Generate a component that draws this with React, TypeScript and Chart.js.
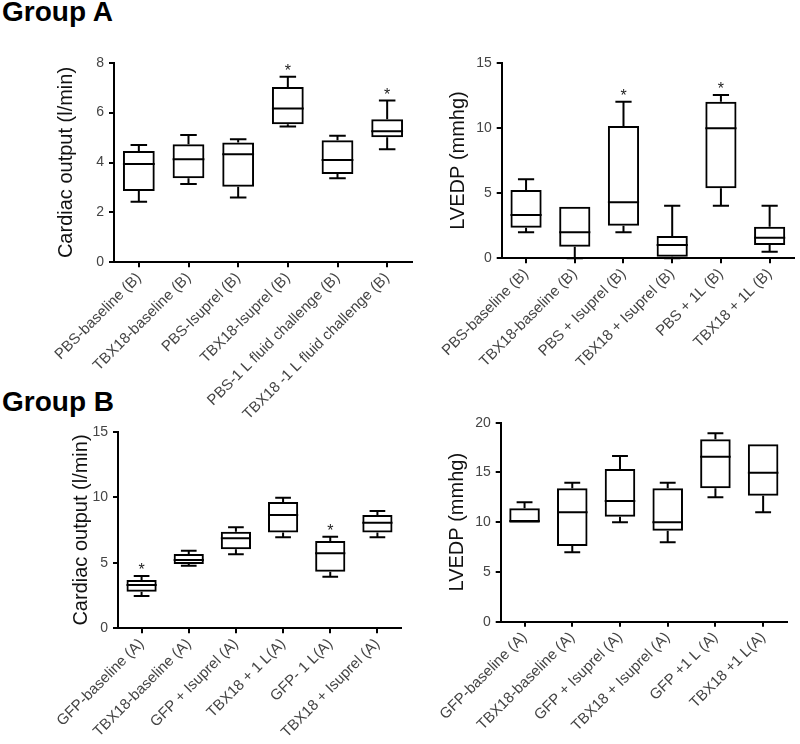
import React, { useEffect, useRef } from 'react';
import { Chart, registerables } from 'chart.js';

Chart.register(...registerables);

const FONT = '"Liberation Sans", Arial, Helvetica, sans-serif';

// ---------- Group A : cardiac output ----------
const coALabels = [
  'PBS-baseline (B)',
  'TBX18-baseline (B)',
  'PBS-Isuprel (B)',
  'TBX18-Isuprel (B)',
  'PBS-1 L fluid challenge (B)',
  'TBX18 -1 L fluid challenge (B)',
];
const coAMin = [2.43, 3.14, 2.6, 5.44, 3.37, 4.53];
const coAQ1 = [2.86, 3.37, 3.03, 5.53, 3.54, 5.01];
const coAMed = [3.94, 4.13, 4.33, 6.16, 4.1, 5.25];
const coAQ3 = [4.46, 4.73, 4.8, 7.03, 4.89, 5.73];
const coAMax = [4.7, 5.1, 4.93, 7.44, 5.07, 6.48];
const coAStar = [false, false, false, true, false, true];

// ---------- Group A : LVEDP ----------
const lvALabels = [
  'PBS-baseline (B)',
  'TBX18-baseline (B)',
  'PBS + Isuprel (B)',
  'TBX18 + Isuprel (B)',
  'PBS + 1L (B)',
  'TBX18 + 1L (B)',
];
const lvAMin = [1.99, 0, 2.0, 0, 4.03, 0.51];
const lvAQ1 = [2.35, 0.89, 2.5, 0.12, 5.37, 1.02];
const lvAMed = [3.32, 1.99, 4.29, 1.02, 9.97, 1.58];
const lvAQ3 = [5.24, 3.96, 10.15, 1.71, 12.0, 2.42];
const lvAMax = [6.06, 3.96, 12.0, 4.03, 12.52, 4.03];
const lvAStar = [false, false, true, false, true, false];

// ---------- Group B : cardiac output ----------
const coBLabels = [
  'GFP-baseline (A)',
  'TBX18-baseline (A)',
  'GFP + Isuprel (A)',
  'TBX18 + 1 L(A)',
  'GFP- 1 L(A)',
  'TBX18 + Isuprel (A)',
];
const coBMin = [2.47, 4.78, 5.65, 6.95, 3.94, 6.95];
const coBQ1 = [2.79, 4.91, 6.03, 7.3, 4.32, 7.3];
const coBMed = [3.3, 5.21, 6.87, 8.65, 5.73, 8.06];
const coBQ3 = [3.69, 5.67, 7.37, 9.64, 6.66, 8.65];
const coBMax = [3.99, 5.92, 7.71, 9.97, 6.99, 8.95];
const coBStar = [true, false, false, false, true, false];

// ---------- Group B : LVEDP ----------
const lvBLabels = [
  'GFP-baseline (A)',
  'TBX18-baseline (A)',
  'GFP + Isuprel (A)',
  'TBX18 + Isuprel (A)',
  'GFP +1 L (A)',
  'TBX18 +1 L(A)',
];
const lvBMin = [9.95, 6.97, 9.99, 7.98, 12.5, 11.0];
const lvBQ1 = [9.95, 7.6, 10.55, 9.15, 13.4, 12.66];
const lvBMed = [10.12, 11.0, 12.13, 9.99, 16.58, 14.97];
const lvBQ3 = [11.4, 13.4, 15.35, 13.4, 18.33, 17.83];
const lvBMax = [12.0, 13.97, 16.65, 13.97, 18.93, 17.83];
const lvBStar = [false, false, false, false, false, false];

type PanelProps = {
  labels: string[];
  min: number[];
  q1: number[];
  med: number[];
  q3: number[];
  max: number[];
  star: boolean[];
  yTitle: string;
  yMax: number;
  step: number;
  left: number;
  top: number;
  w: number;
  h: number;
  padTop: number;
  padRight: number;
  yW: number;
  xH: number;
  titlePad: number;
};

function BoxPanel(p: PanelProps) {
  const ref = useRef<HTMLCanvasElement>(null);
  useEffect(() => {
    if (!ref.current) return;
    const boxPlugin = {
      id: 'boxWhisker',
      afterDatasetsDraw(chart: any) {
        const ctx = chart.ctx;
        const xs = chart.scales.x;
        const ys = chart.scales.y;
        const meta = chart.getDatasetMeta(0);
        ctx.save();
        ctx.strokeStyle = '#000';
        ctx.lineWidth = 2;
        ctx.lineCap = 'butt';
        p.med.forEach((m, i) => {
          const bar = meta.data[i];
          const x = xs.getPixelForValue(i);
          const bw = bar.width;
          const cap = bw * 0.52;
          const yMed = ys.getPixelForValue(m);
          const yQ1 = ys.getPixelForValue(p.q1[i]);
          const yQ3 = ys.getPixelForValue(p.q3[i]);
          const yMin = ys.getPixelForValue(p.min[i]);
          const yMax = ys.getPixelForValue(p.max[i]);
          ctx.beginPath();
          ctx.moveTo(x - bw / 2, yMed);
          ctx.lineTo(x + bw / 2, yMed);
          if (p.max[i] > p.q3[i]) {
            ctx.moveTo(x, yQ3);
            ctx.lineTo(x, yMax);
            ctx.moveTo(x - cap / 2, yMax);
            ctx.lineTo(x + cap / 2, yMax);
          }
          if (p.min[i] < p.q1[i]) {
            ctx.moveTo(x, yQ1);
            ctx.lineTo(x, yMin);
            ctx.moveTo(x - cap / 2, yMin);
            ctx.lineTo(x + cap / 2, yMin);
          }
          ctx.stroke();
          if (p.star[i]) {
            ctx.fillStyle = '#222';
            ctx.font = `16px ${FONT}`;
            ctx.textAlign = 'center';
            ctx.textBaseline = 'alphabetic';
            ctx.fillText('*', x, yMax - 1);
          }
        });
        ctx.restore();
      },
    };
    const axisGrid = {
      display: true,
      drawOnChartArea: false,
      drawTicks: true,
      tickLength: 5,
      color: '#000',
      lineWidth: 2,
      offset: false,
    };
    const axisBorder = { display: true, color: '#000', width: 2 };
    const chart = new Chart(ref.current, {
      type: 'bar',
      data: {
        labels: p.labels,
        datasets: [
          {
            data: p.q1.map((v, i) => [v, p.q3[i]]) as any,
            backgroundColor: 'rgba(0,0,0,0)',
            borderColor: '#000',
            borderWidth: 2,
            borderSkipped: false,
            barPercentage: 0.64,
            categoryPercentage: 1,
          },
        ],
      },
      options: {
        responsive: false,
        animation: false,
        devicePixelRatio: 1,
        layout: { padding: { top: p.padTop, right: p.padRight, left: 0, bottom: 0 } },
        plugins: { legend: { display: false }, tooltip: { enabled: false } },
        scales: {
          x: {
            grid: axisGrid,
            border: axisBorder,
            ticks: {
              autoSkip: false,
              minRotation: 45,
              maxRotation: 45,
              color: '#444',
              font: { family: FONT, size: 15 },
              padding: 2,
            },
            afterFit: (s: any) => {
              s.height = p.xH;
            },
          },
          y: {
            min: 0,
            max: p.yMax,
            grid: axisGrid,
            border: axisBorder,
            ticks: {
              stepSize: p.step,
              color: '#444',
              font: { family: FONT, size: 14 },
              padding: 5,
            },
            title: {
              display: true,
              text: p.yTitle,
              color: '#111',
              font: { family: FONT, size: 20 },
              padding: { top: p.titlePad, bottom: 0 },
            },
            afterFit: (s: any) => {
              s.width = p.yW;
            },
          },
        },
      } as any,
      plugins: [boxPlugin],
    });
    return () => chart.destroy();
  }, []);
  return (
    <canvas
      ref={ref}
      width={p.w}
      height={p.h}
      style={{ position: 'absolute', left: p.left, top: p.top, width: p.w, height: p.h }}
    />
  );
}

const groupStyle: React.CSSProperties = {
  position: 'absolute',
  left: 2,
  fontFamily: FONT,
  fontWeight: 'bold',
  fontSize: 28,
  lineHeight: '28px',
  color: '#000',
  whiteSpace: 'nowrap',
};

export default function App() {
  return (
    <div
      style={{
        position: 'absolute',
        left: 0,
        top: 0,
        width: 800,
        height: 744,
        background: '#fff',
        overflow: 'hidden',
      }}
    >
      <div style={{ ...groupStyle, top: -2 }}>Group A</div>
      <div style={{ ...groupStyle, top: 388 }}>Group B</div>
      <BoxPanel
        labels={coALabels}
        min={coAMin}
        q1={coAQ1}
        med={coAMed}
        q3={coAQ3}
        max={coAMax}
        star={coAStar}
        yTitle="Cardiac output (l/min)"
        yMax={8}
        step={2}
        left={0}
        top={40}
        w={420}
        h={400}
        padTop={22.7}
        padRight={8}
        yW={114}
        xH={177.7}
        titlePad={54}
      />
      <BoxPanel
        labels={lvALabels}
        min={lvAMin}
        q1={lvAQ1}
        med={lvAMed}
        q3={lvAQ3}
        max={lvAMax}
        star={lvAStar}
        yTitle="LVEDP (mmhg)"
        yMax={15}
        step={5}
        left={420}
        top={40}
        w={380}
        h={380}
        padTop={22.7}
        padRight={6}
        yW={81.7}
        xH={161.7}
        titlePad={26}
      />
      <BoxPanel
        labels={coBLabels}
        min={coBMin}
        q1={coBQ1}
        med={coBMed}
        q3={coBQ3}
        max={coBMax}
        star={coBStar}
        yTitle="Cardiac output (l/min)"
        yMax={15}
        step={5}
        left={0}
        top={410}
        w={420}
        h={334}
        padTop={21.7}
        padRight={19}
        yW={118}
        xH={115.7}
        titlePad={69}
      />
      <BoxPanel
        labels={lvBLabels}
        min={lvBMin}
        q1={lvBQ1}
        med={lvBMed}
        q3={lvBQ3}
        max={lvBMax}
        star={lvBStar}
        yTitle="LVEDP (mmhg)"
        yMax={20}
        step={5}
        left={420}
        top={400}
        w={380}
        h={344}
        padTop={22.7}
        padRight={13}
        yW={80.7}
        xH={122.3}
        titlePad={25.5}
      />
    </div>
  );
}
